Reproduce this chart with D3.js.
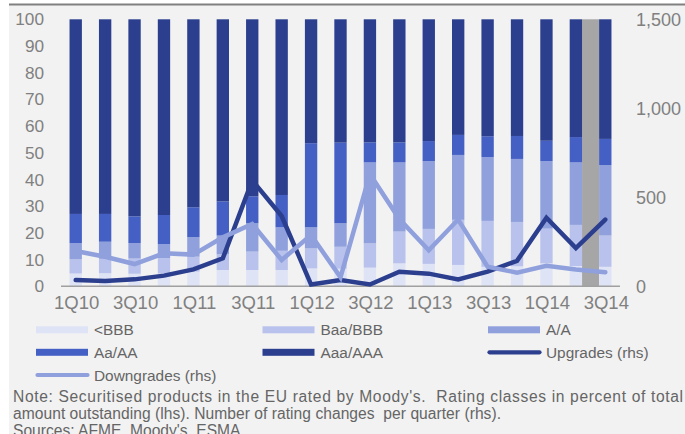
<!DOCTYPE html>
<html>
<head>
<meta charset="utf-8">
<script src="https://cdn.jsdelivr.net/npm/d3@7/dist/d3.min.js"></script>
<style>
  html, body { margin: 0; padding: 0; background: #ffffff; }
  svg { display: block; }
</style>
</head>
<body>
<svg id="chart" width="685" height="434"></svg>
<script>
// ---------- data ----------
const categories = ["1Q10","2Q10","3Q10","4Q10","1Q11","2Q11","3Q11","4Q11","1Q12","2Q12","3Q12","4Q12","1Q13","2Q13","3Q13","4Q13","1Q14","2Q14","3Q14"];
const tickLabels = ["1Q10","3Q10","1Q11","3Q11","1Q12","3Q12","1Q13","3Q13","1Q14","3Q14"];
// rating shares in % of amount outstanding (lhs)
const belowBBB = [4.8, 4.9, 4.7, 4.8, 5.5, 6.1, 6.1, 6.1, 6.7, 6.6, 7.0, 8.6, 8.4, 8.0, 7.3, 7.5, 8.6, 7.6, 7.3];
const baaBBB   = [5.3, 5.4, 5.7, 5.8, 5.6, 5.9, 6.9, 7.2, 7.5, 8.2, 9.1, 11.9, 13.1, 16.9, 17.2, 16.6, 13.0, 15.4, 11.7];
const aA       = [6.1, 6.4, 5.8, 5.2, 7.3, 7.0, 10.6, 8.8, 7.9, 8.8, 30.3, 25.9, 25.4, 24.3, 23.9, 23.6, 25.3, 23.4, 26.4];
const aaAA     = [10.9, 10.4, 10.0, 10.9, 11.2, 12.8, 10.1, 12.1, 31.5, 30.2, 7.5, 7.5, 7.5, 7.5, 7.8, 8.6, 7.6, 9.5, 9.8];
const aaaAAA   = [72.9, 72.9, 73.8, 73.3, 70.4, 68.2, 66.3, 65.8, 46.4, 46.2, 46.1, 46.1, 45.6, 43.3, 43.8, 43.7, 45.5, 44.1, 44.8];
// number of rating changes per quarter (rhs)
const upgrades   = [35, 30, 39, 60, 95, 157, 595, 395, 10, 35, 10, 82, 71, 39, 82, 143, 385, 215, 375];
const downgrades = [198, 166, 125, 185, 178, 275, 350, 148, 288, 50, 630, 378, 202, 375, 110, 77, 115, 95, 79];
const leftTicks  = [0,10,20,30,40,50,60,70,80,90,100];
const rightTicks = [0,500,1000,1500];
const highlightAfter = "2Q14";   // shaded gap before the latest quarter
const highlightBefore = "3Q14";

const seriesNames = ["<BBB","Baa/BBB","A/A","Aa/AA","Aaa/AAA"];
const seriesColors = ["#dfe3f6","#b8c2ec","#8fa0dd","#4560c5","#2c3f8f"];
const upColor = "#2c3f8f", downColor = "#8fa0dd";

// ---------- layout ----------
const svg = d3.select("#chart");
const plot = {left: 61, right: 620, top: 19.3, bottom: 286.3};
const font = "'Liberation Sans', Arial, sans-serif";

// background panel
svg.append("rect").attr("x", 9).attr("y", 5).attr("width", 676).attr("height", 429).attr("fill", "#f2f2f2");
svg.append("line").attr("x1", 9).attr("x2", 685).attr("y1", 4.5).attr("y2", 4.5)
  .attr("stroke", "#808080").attr("stroke-width", 2);

const x = d3.scaleBand().domain(categories).range([plot.left, plot.right])
  .paddingInner(0.58).paddingOuter(0.29);
const yL = d3.scaleLinear().domain([0, 100]).range([plot.bottom, plot.top]);
const yR = d3.scaleLinear().domain([0, 1500]).range([plot.bottom, plot.top]);

// stacked data
const table = categories.map((c, i) => ({cat: c, s0: belowBBB[i], s1: baaBBB[i], s2: aA[i], s3: aaAA[i], s4: aaaAAA[i]}));
const keys = ["s0","s1","s2","s3","s4"];
const stacked = d3.stack().keys(keys)(table);

// highlight
svg.append("rect")
  .attr("x", x(highlightAfter) + x.bandwidth())
  .attr("width", x(highlightBefore) - x(highlightAfter) - x.bandwidth())
  .attr("y", yL(100)).attr("height", yL(0) - yL(100))
  .attr("fill", "#a6a6a6");

// bars
svg.append("g").selectAll("g").data(stacked).join("g")
  .attr("fill", (d, i) => seriesColors[i])
  .selectAll("rect").data(d => d).join("rect")
  .attr("x", d => x(d.data.cat))
  .attr("width", x.bandwidth())
  .attr("y", d => yL(d[1]))
  .attr("height", d => yL(d[0]) - yL(d[1]));

// axis baseline
svg.append("line").attr("x1", plot.left).attr("x2", plot.right)
  .attr("y1", plot.bottom).attr("y2", plot.bottom)
  .attr("stroke", "#a0a0a0").attr("stroke-width", 1.5);

// lines
const lineGen = vals => d3.line()
  .x((d, i) => x(categories[i]) + x.bandwidth() / 2)
  .y(d => yR(d))(vals);
svg.append("path").attr("d", lineGen(upgrades)).attr("fill", "none")
  .attr("stroke", upColor).attr("stroke-width", 4.5).attr("stroke-linejoin", "miter").attr("stroke-linecap", "round");
svg.append("path").attr("d", lineGen(downgrades)).attr("fill", "none")
  .attr("stroke", downColor).attr("stroke-width", 4.5).attr("stroke-linejoin", "miter").attr("stroke-linecap", "round");

// axes
const tickColor = "#808080";
const gL = svg.append("g").attr("transform", `translate(${plot.left},0)`)
  .call(d3.axisLeft(yL).tickValues(leftTicks).tickSize(0).tickPadding(17));
const gR = svg.append("g").attr("transform", `translate(${plot.right},0)`)
  .call(d3.axisRight(yR).tickValues(rightTicks).tickSize(0).tickPadding(16).tickFormat(d3.format(",")));
const gX = svg.append("g").attr("transform", `translate(1,${plot.bottom})`)
  .call(d3.axisBottom(x).tickValues(tickLabels).tickSize(0).tickPadding(10));
[gL, gR, gX].forEach(g => {
  g.select(".domain").remove();
  g.selectAll("text").attr("fill", tickColor).attr("font-family", font);
});
gL.selectAll("text").attr("font-size", 17.2);
gR.selectAll("text").attr("font-size", 18);
gX.selectAll("text").attr("font-size", 18.5);

// legend
const legendItems = [
  {name: seriesNames[0], type: "rect", color: seriesColors[0], col: 0, row: 0},
  {name: seriesNames[1], type: "rect", color: seriesColors[1], col: 1, row: 0},
  {name: seriesNames[2], type: "rect", color: seriesColors[2], col: 2, row: 0},
  {name: seriesNames[3], type: "rect", color: seriesColors[3], col: 0, row: 1},
  {name: seriesNames[4], type: "rect", color: seriesColors[4], col: 1, row: 1},
  {name: "Upgrades (rhs)", type: "line", color: upColor, col: 2, row: 1},
  {name: "Downgrades (rhs)", type: "line", color: downColor, col: 0, row: 2}
];
const colX = [36, 262.5, 488];
const rowY = [329.8, 352.3, 375];
const lg = svg.append("g");
legendItems.forEach(it => {
  const gx = colX[it.col], gy = rowY[it.row];
  if (it.type === "rect") {
    lg.append("rect").attr("x", gx).attr("y", gy - 3.5).attr("width", 52).attr("height", 7).attr("fill", it.color);
  } else {
    lg.append("line").attr("x1", gx + 1.5).attr("x2", gx + 51.5).attr("y1", gy).attr("y2", gy)
      .attr("stroke", it.color).attr("stroke-width", 4.2).attr("stroke-linecap", "round");
  }
  lg.append("text").attr("x", gx + 58).attr("y", gy).attr("dy", "0.36em")
    .attr("font-family", font).attr("font-size", 15.4).attr("fill", "#656565").text(it.name);
});

// note
const notes = [
  {t: "Note: Securitised products in the EU rated by Moody's.  Rating classes in percent of total", y: 402.3, len: 670},
  {t: "amount outstanding (lhs). Number of rating changes  per quarter (rhs).", y: 419.3, len: 488},
  {t: "Sources: AFME, Moody's, ESMA.", y: 436.3, len: null}
];
notes.forEach(n => {
  const t = svg.append("text").attr("x", 13).attr("y", n.y)
    .attr("font-family", font).attr("font-size", 15.6).attr("fill", "#656565")
    .attr("xml:space", "preserve").style("white-space", "pre").text(n.t);
  if (n.len) t.attr("textLength", n.len).attr("lengthAdjust", "spacing");
});
</script>
</body>
</html>
